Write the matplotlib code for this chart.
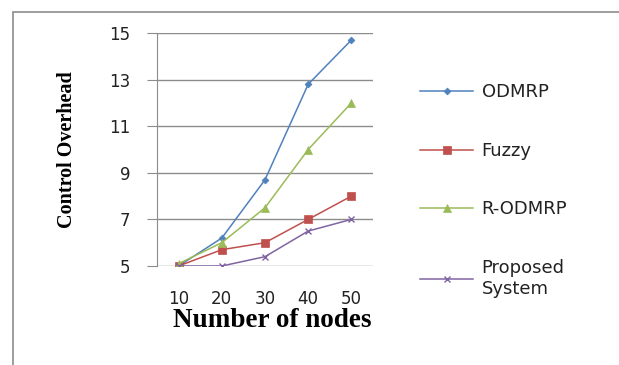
import matplotlib
matplotlib.use("Agg")
import matplotlib.pyplot as plt
from matplotlib.patches import Rectangle

nodes = ["10", "20", "30", "40", "50"]
odmrp = [5.0, 6.2, 8.7, 12.8, 14.7]
fuzzy = [5.0, 5.7, 6.0, 7.0, 8.0]
r_odmrp = [5.1, 6.0, 7.5, 10.0, 12.0]
proposed = [5.0, 5.0, 5.4, 6.5, 7.0]
series_names = ["ODMRP", "Fuzzy", "R-ODMRP", "Proposed\nSystem"]
y_ticks = [5, 7, 9, 11, 13, 15]

W, H = 619, 365
fig = plt.figure(figsize=(W / 100, H / 100), dpi=100)
fig.patch.set_facecolor("white")

# outer chart border
fig.add_artist(Rectangle((13 / W, -0.05), 1.2, 1 - 12 / H + 0.05,
                         transform=fig.transFigure, fill=False,
                         edgecolor="#8c8c8c", linewidth=1.2))

ax = fig.add_axes([157 / W, 1 - 266 / H, (373 - 157) / W, (266 - 33) / H])
x = list(range(len(nodes)))

styles = [
    (odmrp, "#4F81BD", "D", 3.5),
    (fuzzy, "#C0504D", "s", 6),
    (r_odmrp, "#9BBB59", "^", 5.5),
    (proposed, "#8064A2", "x", 5),
]
for (vals, col, mk, ms), name in zip(styles, series_names):
    ax.plot(x, vals, color=col, marker=mk, markersize=ms, linewidth=1.1,
            markeredgewidth=1.0 if mk == "x" else 0.5, label=name)

ax.set_xlim(-0.5, len(nodes) - 0.5)
ax.set_ylim(5, 15)
ax.set_yticks(y_ticks)
ax.set_xticks(x)
ax.set_xticklabels(nodes)
ax.grid(axis="y", color="#8c8c8c", linewidth=1.0)
ax.set_axisbelow(True)
for s in ["top", "right", "bottom"]:
    ax.spines[s].set_visible(False)
ax.spines["left"].set_color("#8c8c8c")
ax.tick_params(axis="y", length=7, color="#8c8c8c", labelsize=12, pad=12)
ax.tick_params(axis="x", length=0, labelsize=12, pad=17)
for lab in ax.get_xticklabels() + ax.get_yticklabels():
    lab.set_family("DejaVu Sans")
    lab.set_color("#222222")

ax.set_ylabel("Control Overhead", family="Liberation Serif", fontweight="bold",
              fontsize=14.5, labelpad=23)
ax.set_xlabel("Number of nodes", family="Liberation Serif", fontweight="bold",
              fontsize=19.5, labelpad=0.5)
ax.xaxis.label.set_x(0.532)

leg = fig.legend(loc="upper left", bbox_to_anchor=(413 / W, 1 - 76 / H),
                 frameon=False, prop={"family": "DejaVu Sans", "size": 13},
                 labelspacing=2.25, handlelength=2.95, handletextpad=0.45,
                 borderaxespad=0)
for t in leg.get_texts():
    t.set_color("#222222")

fig.savefig("out.png", dpi=100)
